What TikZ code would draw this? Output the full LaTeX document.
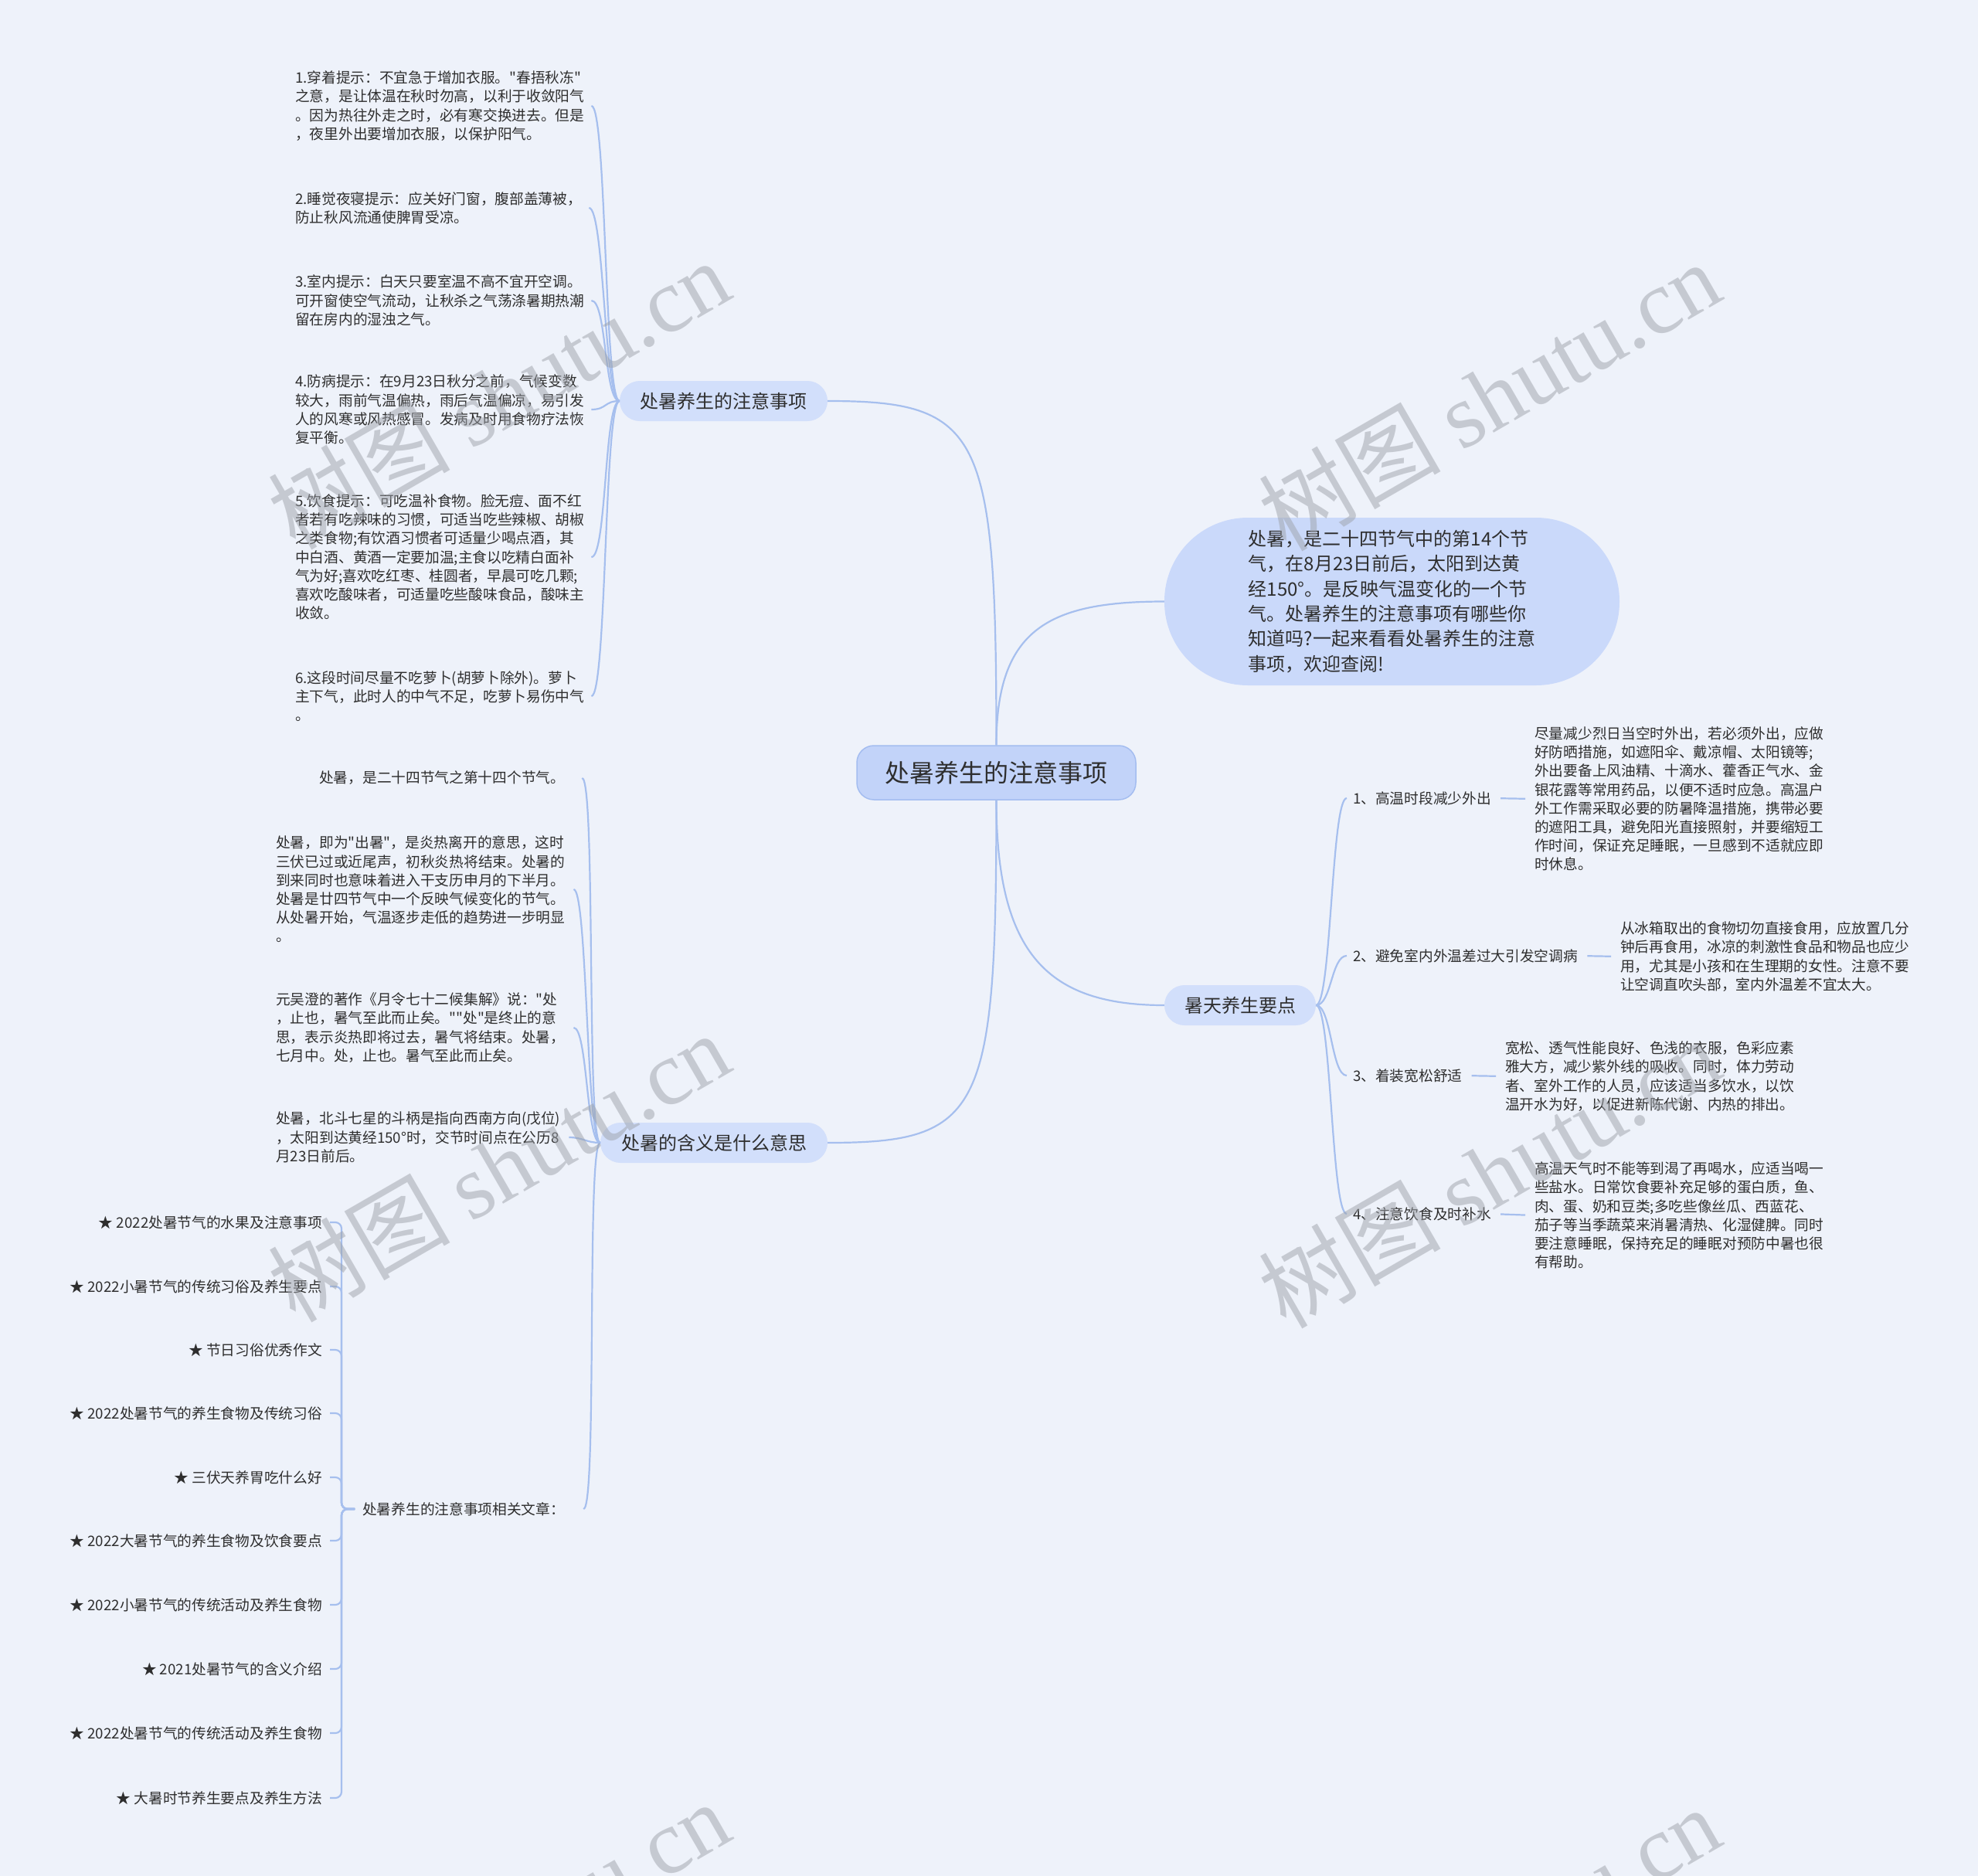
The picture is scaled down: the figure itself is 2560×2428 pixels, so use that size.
\documentclass[tikz,border=0pt]{standalone}
\usepackage{fontspec}
\setmainfont[Ligatures=TeXOff]{Noto Sans CJK SC}
\newfontfamily\wmserif{Liberation Serif}
\usetikzlibrary{calc}
\definecolor{bg}{HTML}{EEF2FA}
\definecolor{linec}{HTML}{A6BFEE}
\definecolor{rootfill}{HTML}{C2D3F9}
\definecolor{rootdraw}{HTML}{A4BDF0}
\definecolor{brfill}{HTML}{D2DFFB}
\definecolor{introfill}{HTML}{CAD9FA}
\definecolor{txt}{HTML}{2E2E2E}
\definecolor{wm}{HTML}{9EA2AA}
\begin{document}
\begin{tikzpicture}[x=1pt,y=-1pt,
  conn/.style={draw=linec, line width=2.2pt},
  leaf/.style={inner sep=0pt, anchor=west, align=left, text=txt, font=\fontsize{18.7pt}{24.2pt}\selectfont},
  art/.style={inner sep=0pt, anchor=east, text=txt, font=\fontsize{18.7pt}{24.2pt}\selectfont},
  rootbox/.style={fill=rootfill, draw=rootdraw, line width=1.5pt, rounded corners=22pt, minimum width=361pt, minimum height=70pt, inner sep=0pt, text=txt, font=\fontsize{32pt}{38pt}\selectfont},
  brbox/.style={fill=brfill, draw=none, rounded corners=26pt, minimum height=52pt, inner sep=0pt, text=txt, font=\fontsize{24pt}{30pt}\selectfont},
  introbox/.style={fill=introfill, draw=none, rounded corners=108pt, minimum width=589pt, minimum height=217pt, inner sep=0pt, align=left, text=txt, font=\fontsize{24pt}{32.4pt}\selectfont},
  wmk/.style={text=wm, opacity=0.5, rotate=30, font=\fontsize{118pt}{120pt}\selectfont, inner sep=0pt}
]
\useasboundingbox (0,0) rectangle (2560,2428);
\clip (0,0) rectangle (2560,2428);
\fill[bg] (0,0) rectangle (2560,2428);

% root and main branches
\node[rootbox] (root) at (1289.5,1000) {处暑养生的注意事项};
\node[brbox, minimum width=269pt] (b1) at (936.5,519) {处暑养生的注意事项};
\node[brbox, minimum width=294pt] (b2) at (924,1479) {处暑的含义是什么意思};
\node[brbox, minimum width=196pt] (b3) at (1605,1301) {暑天养生要点};
\node[introbox] (intro) at (1801.5,778.5) {处暑，是二十四节气中的第14个节\\气，在8月23日前后，太阳到达黄\\经150°。是反映气温变化的一个节\\气。处暑养生的注意事项有哪些你\\知道吗?一起来看看处暑养生的注意\\事项，欢迎查阅!};

% top-left leaves
\node[leaf] (l1) at (382,137) {1.穿着提示：不宜急于增加衣服。"春捂秋冻"\\之意，是让体温在秋时勿高，以利于收敛阳气\\。因为热往外走之时，必有寒交换进去。但是\\，夜里外出要增加衣服，以保护阳气。};
\node[leaf] (l2) at (382,269) {2.睡觉夜寝提示：应关好门窗，腹部盖薄被，\\防止秋风流通使脾胃受凉。};
\node[leaf] (l3) at (382,389) {3.室内提示：白天只要室温不高不宜开空调。\\可开窗使空气流动，让秋杀之气荡涤暑期热潮\\留在房内的湿浊之气。};
\node[leaf] (l4) at (382,530) {4.防病提示：在9月23日秋分之前，气候变数\\较大，雨前气温偏热，雨后气温偏凉，易引发\\人的风寒或风热感冒。发病及时用食物疗法恢\\复平衡。};
\node[leaf] (l5) at (382,721) {5.饮食提示：可吃温补食物。脸无痘、面不红\\者若有吃辣味的习惯，可适当吃些辣椒、胡椒\\之类食物;有饮酒习惯者可适量少喝点酒，其\\中白酒、黄酒一定要加温;主食以吃精白面补\\气为好;喜欢吃红枣、桂圆者，早晨可吃几颗;\\喜欢吃酸味者，可适量吃些酸味食品，酸味主\\收敛。};
\node[leaf] (l6) at (382,901) {6.这段时间尽量不吃萝卜(胡萝卜除外)。萝卜\\主下气，此时人的中气不足，吃萝卜易伤中气\\。};

% bottom-left leaves
\node[leaf] (la) at (413,1007) {处暑，是二十四节气之第十四个节气。};
\node[leaf] (lb) at (357,1151) {处暑，即为"出暑"，是炎热离开的意思，这时\\三伏已过或近尾声，初秋炎热将结束。处暑的\\到来同时也意味着进入干支历申月的下半月。\\处暑是廿四节气中一个反映气候变化的节气。\\从处暑开始，气温逐步走低的趋势进一步明显\\。};
\node[leaf] (lc) at (357,1330) {元吴澄的著作《月令七十二候集解》说："处\\，止也，暑气至此而止矣。""处"是终止的意\\思，表示炎热即将过去，暑气将结束。处暑，\\七月中。处，止也。暑气至此而止矣。};
\node[leaf] (ld) at (357,1472) {处暑，北斗七星的斗柄是指向西南方向(戊位)\\，太阳到达黄经150°时，交节时间点在公历8\\月23日前后。};
\node[leaf] (le) at (469,1953) {处暑养生的注意事项相关文章：};

% articles
\node[art] (a1) at (417,1582) {★ 2022处暑节气的水果及注意事项};
\node[art] (a2) at (417,1665) {★ 2022小暑节气的传统习俗及养生要点};
\node[art] (a3) at (417,1747) {★ 节日习俗优秀作文};
\node[art] (a4) at (417,1829) {★ 2022处暑节气的养生食物及传统习俗};
\node[art] (a5) at (417,1912) {★ 三伏天养胃吃什么好};
\node[art] (a6) at (417,1994) {★ 2022大暑节气的养生食物及饮食要点};
\node[art] (a7) at (417,2077) {★ 2022小暑节气的传统活动及养生食物};
\node[art] (a8) at (417,2160) {★ 2021处暑节气的含义介绍};
\node[art] (a9) at (417,2243) {★ 2022处暑节气的传统活动及养生食物};
\node[art] (a10) at (417,2327) {★ 大暑时节养生要点及养生方法};

% right items
\node[leaf] (i1) at (1751,1033) {1、高温时段减少外出};
\node[leaf] (i2) at (1751,1237) {2、避免室内外温差过大引发空调病};
\node[leaf] (i3) at (1751,1392) {3、着装宽松舒适};
\node[leaf] (i4) at (1751,1571) {4、注意饮食及时补水};

\node[leaf] (d1) at (1986,1034) {尽量减少烈日当空时外出，若必须外出，应做\\好防晒措施，如遮阳伞、戴凉帽、太阳镜等;\\外出要备上风油精、十滴水、藿香正气水、金\\银花露等常用药品，以便不适时应急。高温户\\外工作需采取必要的防暑降温措施，携带必要\\的遮阳工具，避免阳光直接照射，并要缩短工\\作时间，保证充足睡眠，一旦感到不适就应即\\时休息。};
\node[leaf] (d2) at (2097,1238) {从冰箱取出的食物切勿直接食用，应放置几分\\钟后再食用，冰凉的刺激性食品和物品也应少\\用，尤其是小孩和在生理期的女性。注意不要\\让空调直吹头部，室内外温差不宜太大。};
\node[leaf] (d3) at (1948,1393) {宽松、透气性能良好、色浅的衣服，色彩应素\\雅大方，减少紫外线的吸收。同时，体力劳动\\者、室外工作的人员，应该适当多饮水，以饮\\温开水为好，以促进新陈代谢、内热的排出。};
\node[leaf] (d4) at (1986,1573) {高温天气时不能等到渴了再喝水，应适当喝一\\些盐水。日常饮食要补充足够的蛋白质，鱼、\\肉、蛋、奶和豆类;多吃些像丝瓜、西蓝花、\\茄子等当季蔬菜来消暑清热、化湿健脾。同时\\要注意睡眠，保持充足的睡眠对预防中暑也很\\有帮助。};

% connectors from root
\draw[conn] (root.north) .. controls +(0,-405) and +(200,0) .. (b1.east);
\draw[conn] (root.south) .. controls +(0,405) and +(200,0) .. (b2.east);
\draw[conn] (root.north) .. controls +(0,-150) and +(-150,0) .. (intro.west);
\draw[conn] (root.south) .. controls +(0,200) and +(-150,0) .. (b3.west);

% b1 leaves
\foreach \n in {l1,l2,l3,l4,l5,l6}
  \draw[conn] (b1.west) .. controls +(-20,0) and +(20,0) .. ([xshift=9pt]\n.east);
% b2 leaves
\foreach \n/\s in {la/22,lb/11,lc/11,ld/11}
  \draw[conn] (b2.west) .. controls +(-18,0) and +(18,0) .. ([xshift=\s pt]\n.east);
\draw[conn] (b2.west) .. controls +(-18,0) and +(18,0) .. ([xshift=24pt]le.east);
% articles
\foreach \n in {a1,a2,a3,a4,a5,a6,a7,a8,a9,a10}
  \draw[conn, rounded corners=8pt] ([xshift=-10pt]le.west) -- ++(-17,0) |- ([xshift=10pt]\n.east);
% b3 items
\foreach \n in {i1,i2,i3,i4}
  \draw[conn] (b3.east) .. controls +(20,0) and +(-20,0) .. ([xshift=-8pt]\n.west);
\foreach \a/\b in {i1/d1,i2/d2,i3/d3,i4/d4}
  \draw[conn, shorten <=12pt, shorten >=12pt] (\a.east) -- (\b.west);

% watermarks
\node[wmk] (w1) at (645,510) {树图 {\wmserif shutu.cn}};
\node[wmk] (w2) at (1927,512) {树图 {\wmserif shutu.cn}};
\node[wmk] (w3) at (645,1510) {树图 {\wmserif shutu.cn}};
\node[wmk] (w4) at (1927,1518) {树图 {\wmserif shutu.cn}};
\node[wmk] (w5) at (645,2505) {树图 {\wmserif shutu.cn}};
\node[wmk] (w6) at (1927,2512) {树图 {\wmserif shutu.cn}};
\end{tikzpicture}
\end{document}
